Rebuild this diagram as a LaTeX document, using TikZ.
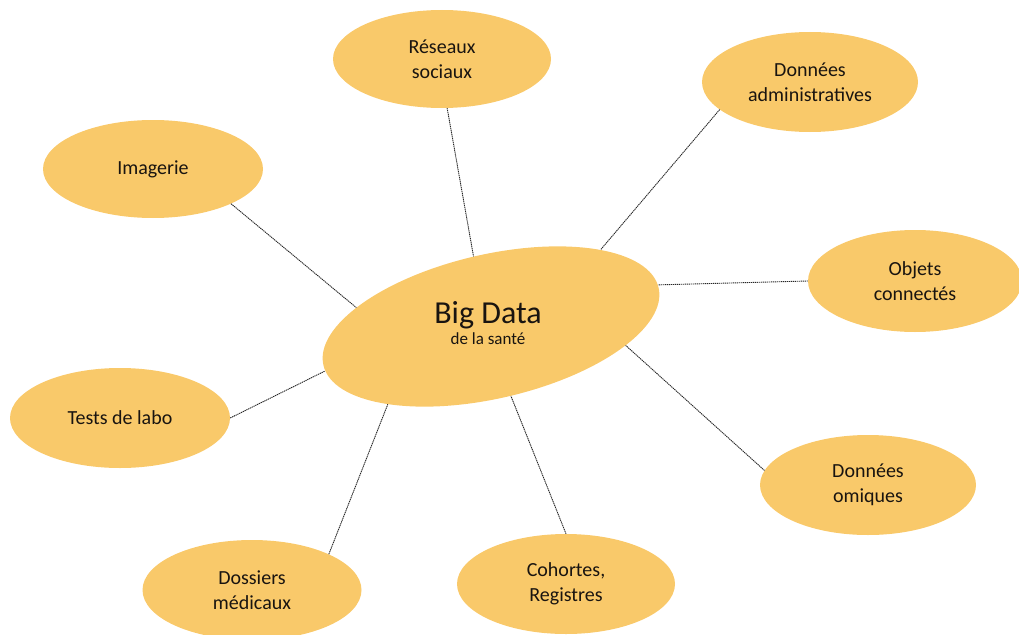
\documentclass[tikz,border=0pt]{standalone}
\usepackage{fontspec}
\setmainfont{Carlito}
\usetikzlibrary{shapes.geometric}
\definecolor{bubble}{RGB}{249,201,106}
\definecolor{ink}{RGB}{25,20,16}
\tikzset{
  bub/.style={ellipse, fill=bubble, draw=none, inner sep=0pt,
    minimum width=#1, align=center, text=ink,
    font=\fontsize{20}{25}\selectfont},
  bub/.default={218pt},
  link/.style={draw=black!85, line width=0.9pt, dash pattern=on 1.3pt off 0.7pt}
}
\begin{document}
\begin{tikzpicture}[x=1pt,y=-1pt]
\useasboundingbox (0,0) rectangle (1019,634);
\node[bub, minimum height=98pt] (res) at (442,59) {Réseaux\\sociaux};
\node[bub=216pt, minimum height=100pt] (adm) at (810,82) {Données\\administratives};
\node[bub=220pt, minimum height=98pt] (img) at (153,169) {Imagerie};
\node[bub=214pt, minimum height=102pt] (obj) at (915,281) {Objets\\connectés};
\node[bub=220pt, minimum height=100pt] (tst) at (120,418) {Tests de labo};
\node[bub=216pt, minimum height=100pt] (omi) at (868,485) {Données\\omiques};
\node[bub=219pt, minimum height=100pt] (dos) at (252,590) {Dossiers\\médicaux};
\node[bub=218pt, minimum height=100pt] (coh) at (566,584) {Cohortes,\\Registres};
\node[ellipse, fill=bubble, inner sep=0pt, minimum width=344pt, minimum height=144pt, rotate=13] (big) at (491,326.5) {};
\node[align=center, text=ink, inner sep=0pt] (bigt) at (488,323) {{\fontsize{32}{32}\selectfont Big Data}\\[3pt]{\fontsize{17}{18}\selectfont de la santé}};
\draw[link] (img.-24.5) -- (big.159);
\draw[link] (res.-84) -- (big.91);
\draw[link] (adm.-163.4) -- (big.22.8);
\draw[link] (obj.180) -- (big.1);
\draw[link] (tst.0) -- (big.182);
\draw[link] (omi.172) -- (big.-21.9);
\draw[link] (dos.25.7) -- (big.-156.5);
\draw[link] (coh.90) -- (big.-87.7);
\end{tikzpicture}
\end{document}
